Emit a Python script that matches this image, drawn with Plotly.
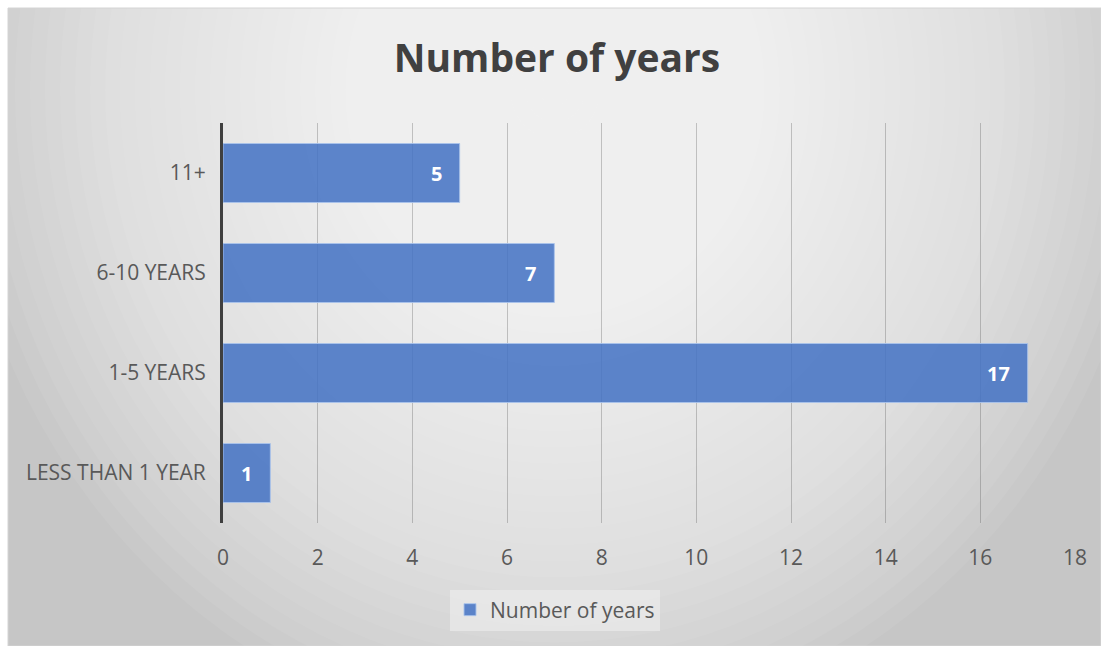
import plotly.graph_objects as go

categories = ["LESS THAN 1 YEAR", "1-5 YEARS", "6-10 YEARS", "11+"]
values = [1, 17, 7, 5]
series_name = "Number of years"
x_ticks = [0, 2, 4, 6, 8, 10, 12, 14, 16, 18]

W, H = 1101, 646
FONT = "Open Sans"

def px(x):
    return x / W

def py(y):
    return 1 - y / H

fig = go.Figure()
fig.add_trace(go.Bar(
    y=categories, x=values, orientation="h", name=series_name,
    marker=dict(color="rgba(68,114,196,0.86)", line=dict(color="rgba(170,195,235,0.9)", width=1)),
    hoverinfo="x+y",
))

shapes = []
# chart frame background
shapes.append(dict(type="rect", xref="paper", yref="paper", x0=px(8), x1=1.0, y0=0, y1=py(8),
                   fillcolor="#c6c6c6", line=dict(width=0), layer="below"))
# radial gradient approximation
N = 40
cx, cy = 555, 90
RX, RY = 600, 650
for i in range(N):
    f = 1 - i / N
    rx, ry = RX * f, RY * f
    shapes.append(dict(type="circle", xref="paper", yref="paper",
                       x0=px(cx - rx), x1=px(cx + rx), y0=py(cy + ry), y1=py(cy - ry),
                       fillcolor="rgba(255,255,255,0.059)", line=dict(width=0), layer="below"))
# white outer border strips
shapes.append(dict(type="rect", xref="paper", yref="paper", x0=0, x1=px(8), y0=0, y1=1,
                   fillcolor="white", line=dict(width=0), layer="below"))
shapes.append(dict(type="rect", xref="paper", yref="paper", x0=0, x1=1, y0=py(8), y1=1,
                   fillcolor="white", line=dict(width=0), layer="below"))
shapes.append(dict(type="rect", xref="paper", yref="paper", x0=px(8), x1=1.0, y0=0, y1=py(8),
                   fillcolor="rgba(0,0,0,0)", line=dict(color="#d4d4d4", width=1), layer="below"))

annotations = []
for c, v in zip(categories, values):
    annotations.append(dict(x=v, y=c, xref="x", yref="y", text=str(v), showarrow=False,
                            xanchor="right", xshift=-16,
                            font=dict(family=FONT, size=20, color="white", weight="bold")))

fig.update_layout(
    width=W, height=H,
    margin=dict(l=0, r=0, t=0, b=0),
    paper_bgcolor="white", plot_bgcolor="rgba(0,0,0,0)",
    title=dict(text="<b>Number of years</b>", x=px(557), xanchor="center", y=py(58), yanchor="middle",
               font=dict(family=FONT, size=39, color="#404040")),
    bargap=0.41,
    shapes=shapes,
    annotations=annotations,
    showlegend=True,
    legend=dict(orientation="h", x=px(555), xanchor="center", y=py(610), yanchor="middle",
                bgcolor="rgba(238,238,238,0.6)", font=dict(family=FONT, size=21, color="#595959"),
                itemwidth=30),
    xaxis=dict(domain=[px(223), px(1075)], range=[0, 18], tickvals=x_ticks, automargin=False,
               showgrid=True, gridcolor="rgba(80,80,80,0.3)", gridwidth=1, zeroline=False,
               ticks="outside", ticklen=16, tickcolor="rgba(0,0,0,0)",
               tickfont=dict(family=FONT, size=21, color="#595959"), fixedrange=True),
    yaxis=dict(domain=[py(523), py(123)], range=[-0.5, 3.5], automargin=False,
               showline=True, linecolor="#3f3f3f", linewidth=3, showgrid=False,
               ticks="outside", ticklen=10, tickcolor="rgba(0,0,0,0)",
               tickfont=dict(family=FONT, size=21, color="#595959"), fixedrange=True),
)

fig.write_html("out.html")
